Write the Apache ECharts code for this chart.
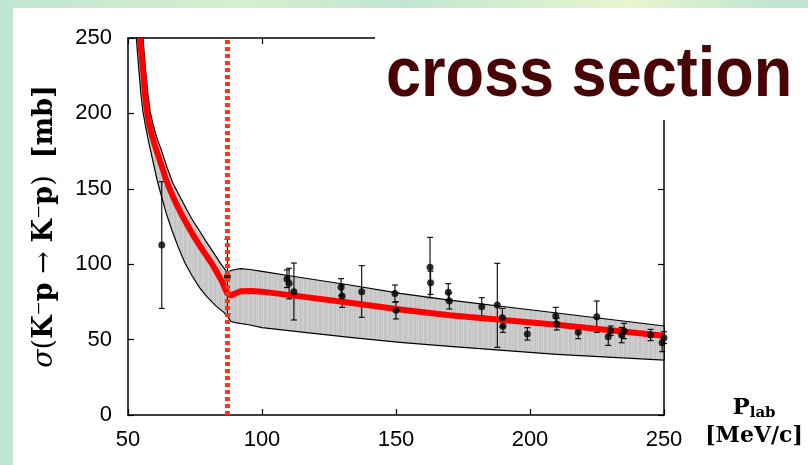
<!DOCTYPE html>
<html><head><meta charset="utf-8">
<script src="https://cdn.jsdelivr.net/npm/echarts@6/dist/echarts.min.js"></script>
<style>html,body{margin:0;padding:0;background:#fff}#c{width:808px;height:465px}</style>
</head><body><div id="c"></div>
<script>
// fitted cross section (red curve)
const fitX = [54.4, 55.6, 56.3, 57.1, 58, 59, 60, 61, 62, 63, 64, 65, 66, 68, 70, 72, 73.1, 75, 77, 79, 81.2, 83, 85, 87, 88.5, 90, 92, 96, 100, 115, 132.8, 151.5, 170, 210, 250];
const fitY = [250, 229, 213, 201, 192, 185, 179, 173.5, 168, 163, 157, 152.5, 148, 140, 133, 126.5, 123, 117.3, 111.7, 106.3, 100.6, 95.2, 88.8, 80.7, 79.3, 80.5, 82, 82.2, 81.8, 78.5, 74.5, 70, 66.2, 59.8, 52.6];
// uncertainty band, upper edge
const upperX = [55.6, 56.5, 57.4, 58.3, 59.3, 60.3, 61.3, 62.4, 64.5, 66.8, 69, 72, 74, 76.5, 79, 82, 84.5, 87.1, 88, 89.5, 92, 95.5, 100, 115, 132.8, 151.5, 170, 200, 250];
const upperY = [250, 229.6, 213, 201, 193, 186.5, 181, 176, 164.5, 153.5, 146, 136, 129.5, 122.7, 115.5, 107.5, 100.6, 94.5, 95.5, 96.3, 97, 96.5, 95.3, 91, 86.2, 80.6, 76.2, 69.8, 59];
// uncertainty band, lower edge
const lowerX = [53.1, 54, 54.8, 55.6, 56.6, 57.6, 58.6, 59.7, 60.9, 62.5, 64.3, 66.3, 68.8, 71.3, 74, 76.7, 79.4, 83, 87, 87.6, 88.5, 90, 95.5, 100, 115, 132.8, 151.5, 170, 210, 250];
const lowerY = [250, 230, 213, 201, 191, 182, 174, 165, 155.5, 145, 133.5, 123, 111, 100.6, 92, 84.5, 78.5, 72, 66.3, 64, 62, 61.3, 59.7, 58, 55, 51.5, 48.2, 45.5, 40.2, 36.4];
// experimental data
const dataX = [62.6, 87.1, 109.3, 110.1, 111.9, 129.5, 129.9, 137.2, 149.6, 150, 162.7, 162.9, 169.5, 169.9, 182, 187.8, 189.7, 189.9, 199, 209.6, 210, 218, 224.9, 229.2, 230.1, 234.2, 235.1, 245, 249.3, 250];
const dataY = [112.7, 91.7, 90.2, 87.3, 81.8, 84.7, 78.9, 81.8, 80.5, 69.4, 97.9, 87.7, 81.4, 75.6, 71.8, 72.9, 64.5, 58.8, 53.7, 65.6, 60.3, 54.8, 65.2, 51.9, 55.9, 53, 55.7, 53, 47.9, 51.3];
const dataLo = [70.7, 67, 84.5, 77, 63, 79, 71.4, 64.8, 74.8, 63.7, 77.8, 80, 75.7, 70.3, 65.8, 44.9, 58.3, 54.8, 49.7, 59.8, 56.4, 50.6, 54.8, 46.2, 52.8, 47.9, 50.6, 49.3, 42, 47.4];
const dataHi = [154.7, 116.5, 96.2, 97.3, 100.8, 90.4, 86.4, 99, 86.2, 75.1, 117.8, 95.4, 87.1, 80.9, 77.8, 100.6, 70.7, 62.8, 57.9, 71.4, 64.2, 58.6, 75.6, 57.6, 59, 58.1, 60.8, 56.8, 53.8, 55.2];
// threshold
const thresholdX = 87.1;
const thresholdY = [0, 250];

// vertical hatch texture for the band
const hatch = document.createElement('canvas');
hatch.width = 5; hatch.height = 4;
(function () {
  const g = hatch.getContext('2d');
  const cols = ['#c3c3c3', '#cdcdcd', '#c6c6c6', '#d2d2d2', '#c4c4c4'];
  cols.forEach((c, i) => { g.fillStyle = c; g.fillRect(i, 0, 1, 4); });
})();

const chart = echarts.init(document.getElementById('c'), null, {renderer: 'canvas'});
const axisLineStyle = {color: '#000', width: 1.5};
const tickStyle = {color: '#000', width: 1.2};
const labelFont = {fontFamily: 'Liberation Sans', fontSize: 22, color: '#000'};
const serif = 'DejaVu Serif';
const ys = 27;

chart.setOption({
  animation: false,
  backgroundColor: '#c0e6d2',
  grid: {left: 128, right: 144, top: 38, bottom: 50},
  graphic: [
    {type: 'rect', z: -20, shape: {x: 0, y: 0, width: 808, height: 9},
     style: {fill: new echarts.graphic.LinearGradient(0, 0, 1, 0, [
       {offset: 0, color: '#c0e6d2'}, {offset: 0.3, color: '#d6efcf'}, {offset: 0.5, color: '#c0e6d2'},
       {offset: 0.78, color: '#e8f6cc'}, {offset: 0.95, color: '#c0e6d2'}, {offset: 1, color: '#c0e6d2'}])}},
    {type: 'rect', z: -10, shape: {x: 13, y: 8, width: 795, height: 457}, style: {fill: '#ffffff'}},
    {type: 'rect', z: 100, shape: {x: 375, y: 12, width: 330, height: 108}, style: {fill: '#ffffff'}},
    {type: 'text', z: 101, x: 386, y: 112, scaleX: 0.9, originX: 0, originY: 0,
     style: {text: 'cross section', fill: '#480404', font: 'bold 70px "Liberation Sans"', verticalAlign: 'bottom', align: 'left'}}
  ],
  xAxis: [
    {type: 'value', min: 50, max: 250, interval: 50, position: 'bottom',
     axisLine: {show: true, onZero: false, lineStyle: axisLineStyle},
     axisTick: {show: true, inside: true, length: 6, lineStyle: tickStyle},
     axisLabel: Object.assign({margin: 14}, labelFont),
     splitLine: {show: false},
     name: '{P|P}{sub|lab}\n{u|[MeV/c]}', nameLocation: 'end', nameGap: 90,
     nameTextStyle: {align: 'center', padding: [14, 0, 0, 0],
       rich: {
         P: {fontFamily: serif, fontWeight: 'bold', fontSize: 23, color: '#000', lineHeight: 28, align: 'center'},
         sub: {fontFamily: serif, fontWeight: 'bold', fontSize: 15, color: '#000', lineHeight: 28, padding: [10, 0, 0, 0], align: 'center'},
         u: {fontFamily: serif, fontWeight: 'bold', fontSize: 22, color: '#000', lineHeight: 28, align: 'center'}
       }}},
    {type: 'value', min: 50, max: 250, interval: 50, position: 'top',
     axisLine: {show: true, onZero: false, lineStyle: axisLineStyle},
     axisTick: {show: true, inside: true, length: 6, lineStyle: tickStyle},
     axisLabel: {show: false}, splitLine: {show: false}}
  ],
  yAxis: [
    {type: 'value', min: 0, max: 250, interval: 50, position: 'left',
     axisLine: {show: true, onZero: false, lineStyle: axisLineStyle},
     axisTick: {show: true, inside: true, length: 6, lineStyle: tickStyle},
     axisLabel: Object.assign({margin: 16}, labelFont),
     splitLine: {show: false},
     name: '{i|σ}{n|(}{b|K}{n|⁻}{b|p}{n| → }{b|K}{n|⁻}{b|p}{n|)}{n|  }{b|[mb]}',
     nameLocation: 'middle', nameRotate: 90, nameGap: 70,
     nameTextStyle: {rich: {
       i: {fontFamily: serif, fontStyle: 'italic', fontSize: ys, color: '#000'},
       n: {fontFamily: serif, fontSize: ys, color: '#000'},
       b: {fontFamily: serif, fontWeight: 'bold', fontSize: ys, color: '#000'}
     }}},
    {type: 'value', min: 0, max: 250, interval: 50, position: 'right',
     axisLine: {show: true, onZero: false, lineStyle: axisLineStyle},
     axisTick: {show: true, inside: true, length: 6, lineStyle: tickStyle},
     axisLabel: {show: false}, splitLine: {show: false}}
  ],
  series: [
    {type: 'custom', z: 1, silent: true,
     data: [[upperX[0], upperY[0]]],
     renderItem: function (params, api) {
       const pts = [];
       for (let i = 0; i < upperX.length; i++) pts.push(api.coord([upperX[i], upperY[i]]));
       for (let i = lowerX.length - 1; i >= 0; i--) pts.push(api.coord([lowerX[i], lowerY[i]]));
       return {type: 'polygon', shape: {points: pts},
         style: {fill: {image: hatch, repeat: 'repeat'}, stroke: '#000', lineWidth: 1.2}};
     }},
    {type: 'custom', z: 3, silent: true,
     data: dataX.map((x, i) => [x, dataY[i], dataLo[i], dataHi[i]]),
     encode: {x: 0, y: [1, 2, 3]},
     renderItem: function (params, api) {
       const x = api.value(0);
       const lo = api.coord([x, api.value(2)]);
       const hi = api.coord([x, api.value(3)]);
       const w = 3;
       const st = {stroke: '#000', lineWidth: 1.1};
       return {type: 'group', children: [
         {type: 'line', shape: {x1: lo[0], y1: lo[1], x2: hi[0], y2: hi[1]}, style: st},
         {type: 'line', shape: {x1: lo[0] - w, y1: lo[1], x2: lo[0] + w, y2: lo[1]}, style: st},
         {type: 'line', shape: {x1: hi[0] - w, y1: hi[1], x2: hi[0] + w, y2: hi[1]}, style: st}
       ]};
     }},
    {type: 'line', z: 4, silent: true, symbol: 'none', smooth: false,
     data: fitX.map((x, i) => [x, fitY[i]]),
     lineStyle: {color: '#ff0000', width: 6, join: 'round'}},
    {type: 'scatter', z: 5, silent: true, symbol: 'circle', symbolSize: 7, clip: false,
     data: dataX.map((x, i) => [x, dataY[i]]),
     itemStyle: {color: '#000'}},
    {type: 'line', z: 6, silent: true, symbol: 'none',
     data: thresholdY.map(y => [thresholdX, y]),
     lineStyle: {color: '#ff3311', width: 5, type: [4, 3]}}
  ]
});
</script>
</body></html>
